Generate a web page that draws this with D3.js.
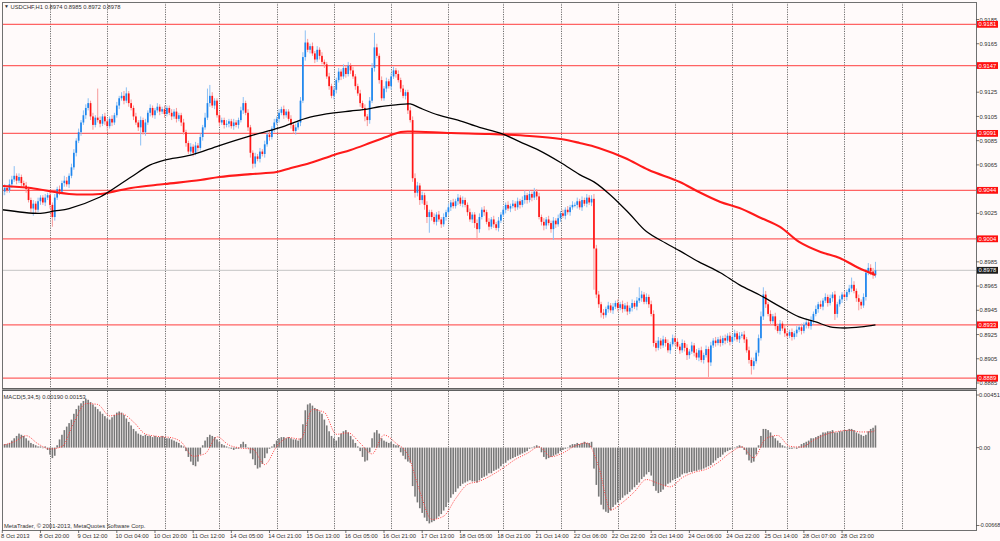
<!DOCTYPE html>
<html><head><meta charset="utf-8">
<script src="https://cdn.jsdelivr.net/npm/d3@7"></script>
<style>body{margin:0;background:#fffafa}svg{display:block}text{font-family:"Liberation Sans",Arial,sans-serif;}</style>
</head><body><svg id="c" width="1000" height="541"></svg>
<script>
// ---------- DATA ----------
const symbol = "USDCHF,H1";
const base = 0.8800;          // closes are in pips above this
const firstOpen = 240;
const closes = [
243,246,244,249,253,256,252,255,250,248,
245,236,229,233,228,235,238,234,238,240,
232,222,238,245,243,250,252,249,256,263,
275,285,292,300,306,312,316,305,298,304,
302,299,305,301,297,303,300,306,314,320,
322,318,324,316,312,305,300,296,302,292,
300,308,312,306,310,313,309,311,307,312,
308,305,309,303,306,300,292,283,276,280,
275,281,279,288,296,304,316,322,314,318,
306,300,302,298,299,301,297,300,298,302,
310,316,308,296,275,266,272,270,276,274,
282,290,288,295,300,303,308,311,306,309,
303,298,293,296,300,318,354,366,360,363,
357,352,360,355,350,348,338,330,322,327,
335,342,338,345,340,347,343,338,330,324,
316,312,305,302,318,345,362,355,335,320,
328,334,330,338,343,340,335,328,322,325,
310,302,254,242,248,236,240,232,222,226,
222,218,224,220,216,222,226,230,234,231,
235,238,233,236,232,226,220,224,217,212,
222,228,226,218,214,220,216,213,219,224,
228,232,229,231,233,230,235,232,236,240,
236,241,238,243,239,222,218,215,220,217,
212,219,216,221,225,223,228,226,230,232,
232,235,230,236,233,238,234,237,196,158,
150,143,141,146,149,145,148,151,147,150,
146,149,144,147,151,148,153,155,158,152,
156,150,142,118,114,120,116,121,118,112,
117,122,119,115,112,118,114,108,111,116,
110,106,112,104,108,113,102,116,120,118,
121,118,122,120,124,119,123,126,121,124,
125,121,112,104,99,103,110,122,140,158,
150,142,136,140,132,128,134,130,126,124,
127,123,126,129,131,128,133,135,132,137,
142,146,150,148,153,156,151,155,158,142,
150,154,158,156,160,163,166,161,155,152,
149,156,176,180,177,174,178];
const upWick = [
2,3,2,4,3,8,2,3,2,2, 3,2,2,3,2,3,2,2,3,2, 3,2,3,2,3,2,4,3,2,3, 3,2,3,2,4,3,4,2,3,2,
24,3,2,3,2,2,3,2,3,2, 3,4,5,2,3,2,3,2,3,2, 3,2,3,2,2,3,2,2,3,2, 2,3,2,3,2,2,3,2,2,3,
2,3,2,3,2,4,12,9,3,2, 2,3,2,2,3,2,2,3,2,2, 3,5,2,3,2,2,3,2,3,2, 3,2,3,2,3,2,3,2,3,2,
2,3,2,3,2,3,4,10,3,2, 3,2,3,2,3,2,2,3,2,3, 2,3,2,3,2,3,2,3,2,2, 3,2,3,2,3,4,12,3,2,3,
2,3,2,3,3,2,3,2,3,2, 2,3,3,4,3,2,3,2,3,2, 2,3,2,3,2,3,2,3,2,3, 2,3,2,3,2,2,3,2,2,3,
3,2,3,2,3,2,3,2,3,2, 3,2,3,2,3,2,3,2,3,4, 2,3,2,3,2,3,2,3,2,3, 2,3,2,3,2,3,2,3,2,3,
2,3,2,3,2,3,2,3,4,3, 3,2,3,2,3,2,3,2,3,2, 3,2,3,2,3,2,3,9,3,2, 3,2,3,3,2,3,2,3,2,3,
2,3,2,3,2,3,2,3,2,3, 2,3,2,3,2,3,2,3,2,3, 2,3,2,3,2,3,2,3,2,3, 2,3,2,3,2,3,2,3,4,6,
3,2,3,2,3,2,3,2,3,2, 2,3,2,3,2,3,2,3,2,3, 2,3,2,3,2,3,2,3,2,3, 2,3,2,3,2,3,6,3,2,3,
2,3,3,4,3,3,7];
const loWick = [
2,3,2,2,3,2,3,2,3,2, 3,2,3,6,3,2,3,2,3,2, 3,8,3,2,3,2,3,2,3,2, 2,3,2,3,2,3,2,3,4,2,
2,3,2,3,4,2,3,2,2,3, 2,3,2,3,2,3,2,3,15,2, 3,2,3,2,3,2,3,2,3,2, 2,3,2,3,2,3,2,3,2,3,
3,2,3,2,3,2,2,3,2,3, 2,3,2,3,2,3,2,3,2,3, 2,3,2,3,4,4,3,2,3,2, 3,2,3,2,3,2,3,2,3,2,
2,3,2,3,2,3,2,3,2,3, 2,3,2,3,2,3,2,3,2,3, 3,2,3,2,3,2,3,2,3,2, 3,2,4,5,3,2,3,2,3,2,
2,3,2,3,2,3,2,3,2,3, 3,2,3,4,3,4,3,4,5,13, 3,2,3,2,3,2,3,2,3,2, 2,3,2,3,2,3,2,3,4,9,
3,2,3,2,3,2,3,2,3,2, 2,3,2,3,2,3,2,3,2,3, 3,2,3,2,3,2,3,4,3,2, 3,9,3,2,3,2,3,2,3,2,
2,3,2,3,2,3,2,3,34,3, 3,4,3,2,3,2,3,2,3,2, 3,2,3,2,3,2,3,2,3,2, 2,3,2,3,3,2,3,2,3,2,
3,2,3,2,3,2,3,4,3,2, 3,2,3,2,3,2,12,3,2,3, 2,3,2,3,2,3,2,3,2,3, 2,3,2,3,7,3,2,3,2,3,
3,2,3,2,3,2,3,2,3,2, 2,3,2,3,2,3,2,3,2,3, 3,2,3,2,3,2,3,2,3,5, 3,2,3,2,3,2,3,2,3,7,
3,2,3,2,3,3,2];
// MACD main, in units of 0.0001
const macdVals = [
2,3,3,4,6,8,10,12,11,10, 8,6,4,3,2,1,1,0,1,-2, -6,-9,-7,2,7,11,15,18,21,24,
29,33,36,38,40,42,41,39,37,35, 33,31,29,27,25,24,26,28,30,31, 30,28,25,22,19,16,14,12,11,10,
11,10,10,9,10,9,9,10,9,8, 8,7,6,5,4,2,1,-3,-8,-12, -15,-16,-12,-6,2,6,9,11,10,9,
7,5,3,2,1,0,-1,-2,-1,-1, 3,5,3,0,-5,-10,-15,-18,-17,-14, -9,-5,-1,1,3,6,8,9,9,8,
9,8,7,7,6,8,20,32,37,38, 36,34,33,31,29,24,19,14,10,8, 6,9,12,14,15,13,10,7,4,1,
-3,-8,-12,-11,-4,8,13,15,12,8, 6,5,4,5,3,2,2,-4,-7,-10, -12,-13,-33,-42,-47,-52,-56,-60,-63,-65,
-64,-63,-61,-59,-57,-54,-51,-47,-43,-40, -38,-35,-33,-31,-30,-29,-28,-29,-29,-30, -28,-26,-25,-24,-22,-22,-20,-19,-18,-16,
-14,-13,-11,-10,-9,-8,-7,-6,-5,-4, -3,-1,0,1,2,1,-4,-8,-10,-9, -8,-7,-6,-5,-3,-2,-1,0,2,3,
3,4,3,4,5,4,4,5,-18,-32, -42,-49,-53,-55,-56,-54,-51,-49,-47,-45, -43,-41,-40,-38,-36,-34,-32,-30,-27,-25,
-23,-21,-24,-33,-37,-39,-38,-36,-33,-31, -30,-28,-27,-26,-25,-23,-22,-22,-21,-21, -20,-20,-19,-19,-18,-17,-16,-15,-13,-11,
-9,-8,-6,-4,-3,-2,-1,0,1,2, 1,-2,-6,-11,-13,-12,-6,2,10,16, 16,15,13,10,8,6,4,2,1,0,
-1,-1,0,-1,1,3,4,5,6,8, 8,9,10,11,13,13,14,14,15,13, 13,14,14,15,15,16,16,15,13,12,
11,10,11,14,16,17,19];
// MACD signal read every 5 bars (plus last bar), units 0.0001
const sigIdx = [0,5,10,15,20,25,30,35,40,45,50,55,60,65,70,75,80,85,90,95,100,105,110,115,120,125,130,135,140,145,
150,155,160,165,170,175,180,185,190,195,200,205,210,215,220,225,230,235,240,245,250,255,260,265,270,275,280,285,290,295,
300,305,310,315,320,325,330,335,340,345,350,355,360,365,366];
const sigVals = [2,5,10.2,3.2,-1.2,0.8,21.4,37.8,37,27.2, 29,22,11.6,9.6,8.8,4.8,-7.4,-5.2,9.2,2.2,
-0.4,-1.4,-14.6,0.8,8.6,7.2,32.6,30.2,11.4,12.6, 3.8,-5.4,10.8,3.8,-6.2,-37.4,-61.6,-58.8,-43.8,-31.6,
-28.8,-23.8,-17.4,-10.2,-5,0.6,-7.8,-4.6,1.4,4, -16.6,-53.4,-47,-37.8,-27.4,-30.8,-33.6,-25.8,-21.2,-18.6,
-12.8,-4.6,0.6,-8.8,7.6,10.4,1.2,0.4,6.2,11.2, 13.8,14.8,13.4,13.6,15.3];
// moving averages (pips above base), read at bar indices
const maFastIdx = [0,16,22,28,41,44,54,62,68,79,91,104,116,125,129,139,146,153,158,165,171,175,183,191,200,209,217,225,234,242,248,255,263,270,278,284,292,301,309,318,326,334,341,347,353,360,366];
const maFastVal = [228,225,227,229,238.5,242,255,265,269,273,281,289,295.5,302,304.5,308,309.5,311,313,314.5,315.3,312,306,302,296,291,284,277,267,257,251,240,224.5,210,200.5,194,185,176,166,157,148,139.5,135.4,131.3,130.4,131.3,133];
const maSlowIdx = [0,12,22,28,41,44,54,68,83,91,104,115,121,129,139,146,154,162,167,171,188,204,221,234,242,250,261,271,284,292,301,309,318,326,334,343,351,359,366];
const maSlowVal = [247.6,246,242.6,241,241,241.8,246,249.2,252.5,255,257.4,259.1,262.4,266.5,273.2,277.3,283,288.9,292.2,292.6,291.3,290.5,288.9,286.4,283.1,279,270.7,260.8,250.9,242.6,234.4,229.4,221.2,213.8,201.4,193.1,188.2,179.9,174.2];
const levels = [0.9181,0.9147,0.9091,0.9044,0.9004,0.8933,0.8889];
const priceTicks = [0.9185,0.9165,0.9145,0.9125,0.9105,0.9085,0.9065,0.9045,0.9025,0.9005,0.8985,0.8965,0.8945,0.8925,0.8905,0.8885];
const macdTicks = [0.00451,0,-0.00668];
const macdTickLabels = ["0.00451","0.00","-0.00668"];
const timeLabels = ["8 Oct 2013","8 Oct 20:00","9 Oct 12:00","10 Oct 04:00","10 Oct 20:00","11 Oct 12:00","14 Oct 05:00","14 Oct 21:00","15 Oct 13:00","16 Oct 05:00","16 Oct 21:00","17 Oct 13:00","18 Oct 05:00","18 Oct 21:00","21 Oct 14:00","22 Oct 06:00","22 Oct 22:00","23 Oct 14:00","24 Oct 06:00","24 Oct 22:00","25 Oct 14:00","28 Oct 07:00","28 Oct 23:00"];
const labelStep = 16;
const dayStarts = [20,44,68,91,115,139,163,187,210,234,258,282,306,329,353,377];

// ---------- DRAW ----------
const svg = d3.select("#c");
const W = 1000, H = 541;
const L = 2, R = 976, T = 2, MB = 388, MT = 391, B = 530;
const P = v => base + v/10000;

const x = d3.scaleLinear().domain([0,377]).range([2.29,901.7]);
const y = d3.scaleLinear().domain([0.8885,0.9185]).range([383,19.5]);
const ym = d3.scaleLinear().domain([-0.00668,0.00451]).range([525.5,395]);

svg.append("rect").attr("width",W).attr("height",H).attr("fill","#fffafa");

const defs = svg.append("defs");
defs.append("clipPath").attr("id","cm").append("rect").attr("x",L).attr("y",T).attr("width",R-L).attr("height",MB-T);
defs.append("clipPath").attr("id","cd").append("rect").attr("x",L).attr("y",MT).attr("width",R-L).attr("height",B-MT);

// vertical grid
const grid = svg.append("g").attr("stroke","#4a4a4a").attr("stroke-width",0.8).attr("stroke-dasharray","1.2,1.2");
dayStarts.forEach(d=>{
  const gx = Math.round(x(d))+0.5;
  grid.append("line").attr("x1",gx).attr("x2",gx).attr("y1",T).attr("y2",MB);
  grid.append("line").attr("x1",gx).attr("x2",gx).attr("y1",MT).attr("y2",B);
});

const main = svg.append("g").attr("clip-path","url(#cm)");
// horizontal level lines
levels.forEach(l=>{
  main.append("line").attr("x1",L).attr("x2",R).attr("y1",y(l)).attr("y2",y(l))
    .attr("stroke","#ff4848").attr("stroke-width",1.2).attr("stroke-opacity",0.85);
});
const lastClose = P(closes[closes.length-1]);
main.append("line").attr("x1",L).attr("x2",R).attr("y1",y(lastClose)).attr("y2",y(lastClose))
  .attr("stroke","#c4c4c4").attr("stroke-width",1);

// candles
const candles = closes.map((c,i)=>{
  const o = i===0 ? firstOpen : closes[i-1];
  return {i, o:P(o), c:P(c), h:P(Math.max(o,c)+upWick[i]), l:P(Math.min(o,c)-loWick[i])};
});
const cg = main.append("g");
cg.selectAll("line.w").data(candles).join("line")
  .attr("x1",d=>x(d.i)).attr("x2",d=>x(d.i)).attr("y1",d=>y(d.h)).attr("y2",d=>y(d.l))
  .attr("stroke",d=>d.c>=d.o?"#8cc0f4":"#f79a9a").attr("stroke-width",1);
cg.selectAll("rect.b").data(candles).join("rect")
  .attr("x",d=>x(d.i)-0.85).attr("width",1.7)
  .attr("y",d=>y(Math.max(d.o,d.c)))
  .attr("height",d=>Math.max(0.9,Math.abs(y(d.o)-y(d.c))))
  .attr("fill",d=>d.c>=d.o?"#1e86ee":"#ff1414");

// moving averages
const lineGen = d3.line().curve(d3.curveCatmullRom.alpha(0.5));
main.append("path").attr("d",lineGen(maSlowIdx.map((d,k)=>[x(d),y(P(maSlowVal[k]))])))
  .attr("fill","none").attr("stroke","#ff1a1a").attr("stroke-width",2.1);
main.append("path").attr("d",lineGen(maFastIdx.map((d,k)=>[x(d),y(P(maFastVal[k]))])))
  .attr("fill","none").attr("stroke","#000").attr("stroke-width",1.3);

// MACD panel
const mg = svg.append("g").attr("clip-path","url(#cd)");
mg.selectAll("rect").data(macdVals).join("rect")
  .attr("x",(d,i)=>x(i)-0.8).attr("width",1.6)
  .attr("y",d=>Math.min(ym(0),ym(d/10000)))
  .attr("height",d=>Math.max(0.6,Math.abs(ym(d/10000)-ym(0))))
  .attr("fill","#787878");
mg.append("path").attr("d",d3.line().curve(d3.curveMonotoneX)(sigIdx.map((d,k)=>[x(d),ym(sigVals[k]/10000)])))
  .attr("fill","none").attr("stroke","#ff3a3a").attr("stroke-width",1).attr("stroke-dasharray","1,1.4");

// frames
const fr = svg.append("g").attr("fill","none").attr("stroke","#707070").attr("stroke-width",1);
fr.append("rect").attr("x",L+0.5).attr("y",T+0.5).attr("width",R-L).attr("height",B-T);
svg.append("rect").attr("x",L).attr("y",MB).attr("width",R-L+1).attr("height",MT-MB).attr("fill","#9a9a9a");
svg.append("line").attr("x1",L).attr("x2",R+1).attr("y1",MB+0.5).attr("y2",MB+0.5).attr("stroke","#606060");
svg.append("line").attr("x1",L).attr("x2",R+1).attr("y1",MT-0.5).attr("y2",MT-0.5).attr("stroke","#606060");

const fs = 5.8;
// price axis
const ax = svg.append("g").attr("font-size",fs).attr("fill","#303030");
priceTicks.forEach(t=>{
  ax.append("line").attr("x1",R).attr("x2",R+3).attr("y1",y(t)).attr("y2",y(t)).attr("stroke","#505050").attr("stroke-width",0.8);
  const covered = levels.some(l=>Math.abs(y(l)-y(t))<3.5);
  if(!covered) ax.append("text").attr("x",R+3.5).attr("y",y(t)).attr("dy","0.36em").text(t.toFixed(4));
});
levels.forEach(l=>{
  ax.append("rect").attr("x",R+1).attr("y",y(l)-3.4).attr("width",21).attr("height",6.8).attr("fill","#ff1010");
  ax.append("text").attr("x",R+2.5).attr("y",y(l)).attr("dy","0.36em").attr("fill","#fff").text(l.toFixed(4));
});
ax.append("rect").attr("x",R+1).attr("y",y(lastClose)-3.4).attr("width",21).attr("height",6.8).attr("fill","#1c1c1c");
ax.append("text").attr("x",R+2.5).attr("y",y(lastClose)).attr("dy","0.36em").attr("fill","#fff").text(lastClose.toFixed(4));

// macd axis
macdTicks.forEach((t,k)=>{
  ax.append("line").attr("x1",R).attr("x2",R+3).attr("y1",ym(t)).attr("y2",ym(t)).attr("stroke","#505050").attr("stroke-width",0.8);
  ax.append("text").attr("x",R+3).attr("y",ym(t)).attr("dy","0.36em")
    .attr("font-size",t<0?5.4:fs).text(macdTickLabels[k]);
});

// time axis
timeLabels.forEach((t,k)=>{
  const bx = x(k*labelStep);
  ax.append("line").attr("x1",bx).attr("x2",bx).attr("y1",B).attr("y2",B+3).attr("stroke","#505050").attr("stroke-width",0.8);
  ax.append("text").attr("x",bx-1.2).attr("y",537.5).text(t);
});

// header texts
const lastO = candles[candles.length-1];
ax.append("text").attr("x",4).attr("y",8.3).attr("font-size",5).text("\u25BC");
ax.append("text").attr("x",10.5).attr("y",8.5)
  .text(`${symbol}  ${lastO.o.toFixed(4)} ${lastO.h.toFixed(4)} ${lastO.l.toFixed(4)} ${lastO.c.toFixed(4)}`);
ax.append("text").attr("x",3.5).attr("y",398.5)
  .text(`MACD(5,34,5) ${(macdVals[macdVals.length-1]/10000).toFixed(5)} ${(sigVals[sigVals.length-1]/10000).toFixed(5)}`);
ax.append("text").attr("x",4).attr("y",527.5).text("MetaTrader, \u00A9 2001-2013, MetaQuotes Software Corp.");
</script></body></html>
